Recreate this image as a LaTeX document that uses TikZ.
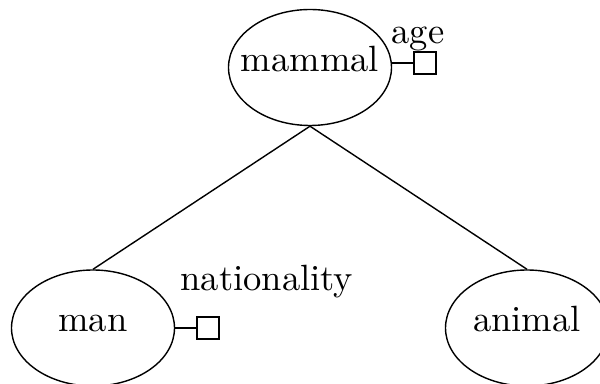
\documentclass[tikz,border=0pt]{standalone}
\usepackage{tikz}
\usetikzlibrary{positioning, shapes.geometric}

\begin{document}
\begin{tikzpicture}[
      font=\fontsize{10.4}{12.5}\selectfont,
      entity/.style={ellipse, draw, minimum width=1.63cm, minimum height=1.16cm,
                     inner xsep=-0.12cm, text height=7pt, text depth=5pt},
      attrbox/.style={rectangle, draw, minimum size=0.22cm, inner sep=0pt},
      attrname/.style={inner sep=0pt}
    ]
    \useasboundingbox (0,0) rectangle (6,3.84);

    \node[entity] (mammal) at (3.10,3.165) {mammal};
    \node[entity] (man) at (0.93,0.56) {man};
    \node[entity] (animal) at (5.27,0.56) {animal};

    % attributes
    \node[attrbox, right=0.21cm of mammal, yshift=0.045cm] (age) {};
    \node[attrname, above=0pt of age, xshift=-0.07cm] {age};
    \node[attrbox, right=0.21cm of man] (nationality) {};
    \node[attrname, above=0.18cm of nationality, xshift=0.59cm] {nationality};

    \draw (age.west) -- (age.west -| mammal.east);
    \draw (man) -- (nationality);

    \draw (mammal.south) -- (man.north);
    \draw (mammal.south) -- (animal.north);
  \end{tikzpicture}
\end{document}
